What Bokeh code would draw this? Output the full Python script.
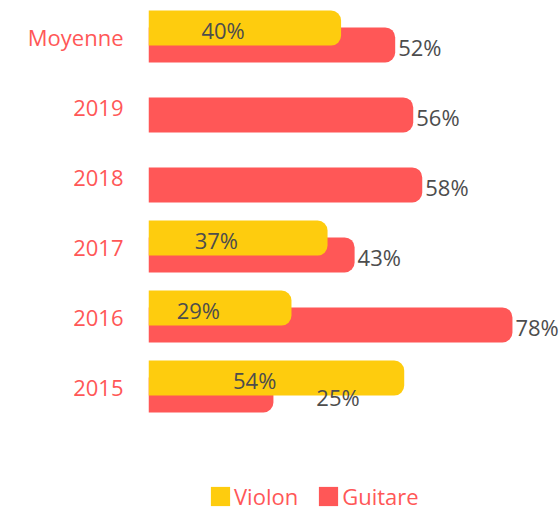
from bokeh.plotting import figure
from bokeh.models import ColumnDataSource, Range1d, FixedTicker, Legend, LegendItem
from bokeh.core.properties import value
from bokeh.embed import file_html
from bokeh.resources import INLINE

categories = ["2015", "2016", "2017", "2018", "2019", "Moyenne"]
violon = [54, 29, 37, None, None, 40]
guitare = [25, 78, 43, 58, 56, 52]
series_names = ["Violon", "Guitare"]

YELLOW = "#FECC0E"
RED = "#FF5757"
TXT = "#4D4D4D"
FONT = "Open Sans"

X0 = -2.7
PX_PER_UNIT = 4.51
FRAME_LEFT = 148
W, H = 560, 510
X1 = X0 + (W - FRAME_LEFT) / PX_PER_UNIT
Y1 = 5 + 36 / 70.0
Y0 = Y1 - H / 70.0
OFF = 0.12

idx = list(range(len(categories)))

vi = [i for i in idx if violon[i] is not None]
src_v = ColumnDataSource(dict(
    y=[i + OFF for i in vi],
    right=[violon[i] for i in vi],
    xl=[(X0 + violon[i]) / 2 for i in vi],
    lab=[f"{violon[i]}%" for i in vi],
))

gx, gxoff = [], []
for i in idx:
    v = violon[i]
    g = guitare[i]
    if v is not None and v > g:
        gx.append((X0 + v) / 2)
        gxoff.append(40)
    else:
        gx.append(g)
        gxoff.append(3)

src_g = ColumnDataSource(dict(
    y=[i - OFF for i in idx],
    right=guitare,
    xl=gx,
    xoff=gxoff,
    lab=[f"{g}%" for g in guitare],
))

p = figure(width=W, height=H, output_backend="svg", toolbar_location=None,
           x_range=Range1d(X0, X1), y_range=Range1d(Y0, Y1),
           min_border_left=FRAME_LEFT, min_border_right=0,
           min_border_top=0, min_border_bottom=0)
p.outline_line_color = None
p.xgrid.visible = False
p.ygrid.visible = False
p.xaxis.visible = False

ax = p.yaxis[0]
ax.ticker = FixedTicker(ticks=idx)
ax.major_label_overrides = {i: c for i, c in zip(idx, categories)}
ax.axis_line_color = None
ax.major_tick_line_color = None
ax.minor_tick_line_color = None
ax.major_tick_out = 0
ax.major_tick_in = 0
ax.major_label_standoff = 25
ax.major_label_text_font = FONT
ax.major_label_text_font_size = "22px"
ax.major_label_text_color = RED

rg = p.hbar(y="y", left=X0, right="right", height=0.5, source=src_g,
            fill_color=RED, line_color=None, border_radius=(0, 10, 10, 0))
rv = p.hbar(y="y", left=X0, right="right", height=0.5, source=src_v,
            fill_color=YELLOW, line_color=None, border_radius=(0, 10, 10, 0))

p.text(x="xl", y="y", text="lab", source=src_g, x_offset="xoff", y_offset=2,
       text_align="left", text_baseline="middle", text_font=value(FONT),
       text_font_size="22px", text_color=TXT)
p.text(x="xl", y="y", text="lab", source=src_v, y_offset=2,
       text_align="right", text_baseline="middle", text_font=value(FONT),
       text_font_size="22px", text_color=TXT)

legend = Legend(items=[LegendItem(label=series_names[0], renderers=[rv]),
                       LegendItem(label=series_names[1], renderers=[rg])],
                orientation="horizontal", location=(60, -1),
                border_line_color=None, background_fill_alpha=0,
                padding=0, margin=0, spacing=18, glyph_width=24, glyph_height=24,
                label_standoff=2, label_height=24,
                label_text_font=FONT, label_text_font_size="22px",
                label_text_color=RED)
p.add_layout(legend)

open("out.html", "w").write(file_html(p, INLINE))
